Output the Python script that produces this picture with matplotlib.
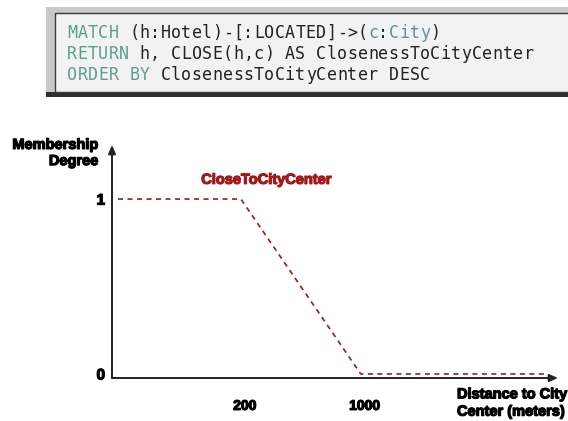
import matplotlib
matplotlib.use("Agg")
import matplotlib.pyplot as plt
import matplotlib.patheffects as pe
from matplotlib.patches import Rectangle

# query shown in the box above the chart: (text, kind) pieces per line
query_lines = [
    [("MATCH", "kw"), (" (h:Hotel)-[:LOCATED]->(", "txt"), ("c", "var"),
     (":", "txt"), ("City", "var"), (")", "txt")],
    [("RETURN", "kw"), (" h, CLOSE(h,c) AS ClosenessToCityCenter", "txt")],
    [("ORDER BY", "kw"), (" ClosenessToCityCenter DESC", "txt")],
]

# membership function CloseToCityCenter (schematic x positions)
x_points = [0.047, 1.0, 1.93, 3.36]
membership = [1, 1, 0, 0]
x_tick_pos = [1.03, 1.96]
x_tick_labels = ["200", "1000"]
y_ticks = [0, 1]
y_tick_labels = ["0", "1"]

W, H = 568, 421
fig = plt.figure(figsize=(W / 100, H / 100), dpi=100)
fig.patch.set_facecolor("white")


def fx(px):
    return px / W


def fy(py):
    return 1 - py / H


# ---- code box ----
fig.patches.append(Rectangle((fx(46), fy(97)), fx(W) - fx(46), fy(7) - fy(97),
                             transform=fig.transFigure, facecolor="#c9c9c9",
                             edgecolor="none", zorder=0))
fig.patches.append(Rectangle((fx(46), fy(97)), fx(W) - fx(46), fy(92) - fy(97),
                             transform=fig.transFigure, facecolor="#2e2e2e",
                             edgecolor="none", zorder=1))
fig.patches.append(Rectangle((fx(55), fy(92)), fx(W + 5) - fx(55), fy(13) - fy(92),
                             transform=fig.transFigure, facecolor="#f2f2f2",
                             edgecolor="#3a3a3a", lw=1.0, zorder=2))

colors = {"kw": "#5f9d8e", "txt": "#222222", "var": "#6a8c99"}
char_w = 10.38
baselines = [38, 59, 80]
for line, base in zip(query_lines, baselines):
    i = 0
    for piece, kind in line:
        for ch in piece:
            if ch != " ":
                fig.text(fx(67 + i * char_w), fy(base), ch, family="DejaVu Sans Mono",
                         fontsize=12, color=colors[kind], va="baseline", ha="left",
                         zorder=3)
            i += 1

# ---- membership chart ----
ax = fig.add_axes([fx(112), fy(378), fx(558) - fx(112), fy(145) - fy(378)])
ax.set_xlim(0, 3.46)
ax.set_ylim(-0.023, 1.309)
ax.patch.set_alpha(0)
for s in ax.spines.values():
    s.set_visible(False)

ax.plot(x_points, membership, color="#a31818", lw=1.2, dashes=(3, 2.7))

arrow = dict(arrowstyle="-|>,head_length=0.5,head_width=0.22", color="#222222",
             lw=1.4, shrinkA=0, shrinkB=0)
ax.annotate("", xy=(0, 1), xytext=(0, 0), xycoords="axes fraction",
            textcoords="axes fraction", arrowprops=arrow)
ax.annotate("", xy=(1, 0), xytext=(0, 0), xycoords="axes fraction",
            textcoords="axes fraction", arrowprops=arrow)

bold = dict(family="Liberation Sans", weight="bold")
heavy = [pe.withStroke(linewidth=0.9, foreground="black")]
heavy_red = [pe.withStroke(linewidth=0.9, foreground="#a31818")]

ax.set_yticks(y_ticks)
ax.set_yticklabels(y_tick_labels, fontsize=11, **bold)
ax.set_xticks(x_tick_pos)
ax.set_xticklabels(x_tick_labels, fontsize=10, **bold)
ax.tick_params(axis="y", length=0, pad=5)
ax.tick_params(axis="x", length=0, pad=15)
for lab in ax.get_xticklabels() + ax.get_yticklabels():
    lab.set_path_effects(heavy)

ax.text(1.2, 1.11, "CloseToCityCenter", color="#a31818", fontsize=10.5,
        ha="center", va="center", path_effects=heavy_red, **bold)

fig.text(fx(99), fy(153), "Membership\nDegree", ha="right", va="center",
         multialignment="right", fontsize=10.5, linespacing=1.2,
         path_effects=heavy, **bold)
fig.text(fx(457), fy(403), "Distance to City\nCenter (meters)", ha="left",
         va="center", fontsize=10.5, linespacing=1.3, path_effects=heavy, **bold)

fig.savefig("out.png", dpi=100)
